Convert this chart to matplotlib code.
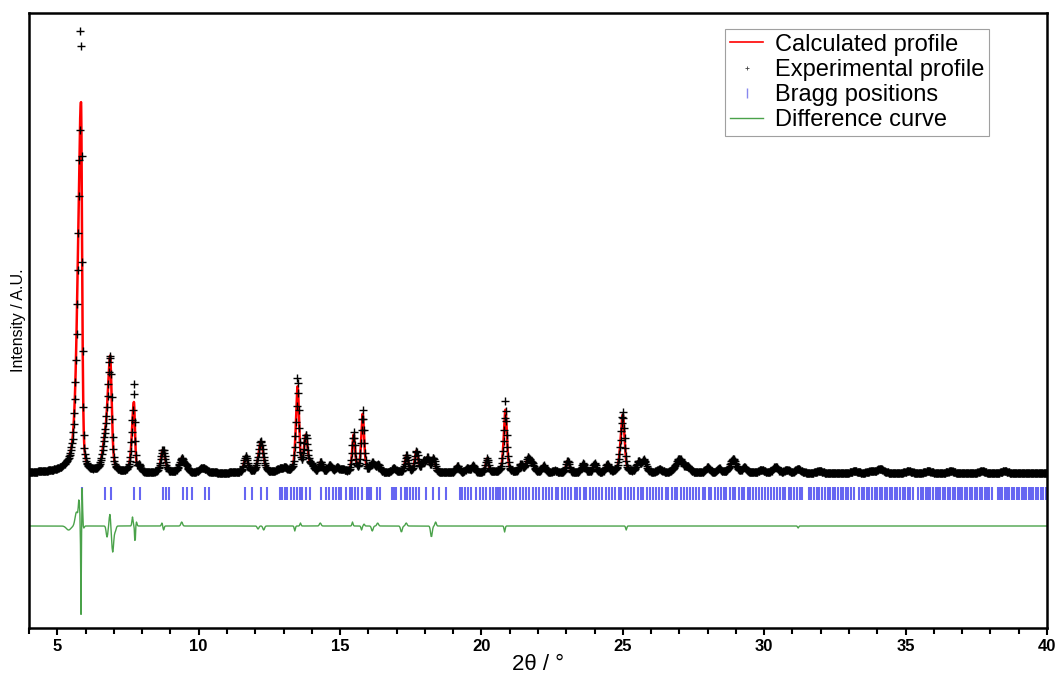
import numpy as np
import matplotlib
matplotlib.use('Agg')
from matplotlib import pyplot as plt
from matplotlib.lines import Line2D
from matplotlib.ticker import MultipleLocator

plt.rcParams['font.family'] = ['Liberation Sans', 'DejaVu Sans']

# Peak table: position (deg), height, left/right half widths
peak_pos = [5.84, 6.66, 6.87, 7.71, 7.90, 8.74, 9.40, 9.57, 10.15, 11.67, 12.20, 12.85,
            13.05, 13.50, 13.79, 14.00, 14.32, 14.64, 14.90, 15.10, 15.48, 15.80, 16.15,
            16.35, 16.90, 17.35, 17.70, 17.95, 18.10, 18.30, 19.15, 19.50, 19.70, 20.20,
            20.85, 21.40, 21.65, 21.80, 22.20, 22.60, 23.05, 23.60, 24.00, 24.45, 25.00,
            25.55, 25.75, 26.30, 27.00, 27.30, 28.00, 28.40, 28.90, 29.30, 29.90, 30.40,
            30.80, 31.20, 31.95, 33.20, 33.80, 34.10, 35.10, 35.80, 36.60, 37.70, 38.50]
peak_height = [370, 18, 115, 70, 7, 23, 14, 5, 5, 16, 31, 3,
               4, 85, 36, 6, 10, 7, 5, 3, 37, 58, 9,
               7, 4, 17, 21, 10, 13, 14, 7, 4, 7, 14,
               63, 8, 14, 8, 7, 2, 12, 9, 9, 8, 58,
               10, 12, 3, 14, 5, 6, 4, 14, 5, 3, 6,
               3, 4, 2, 2, 2, 4, 2, 2, 2, 2, 2]
peak_wl = [0.13, 0.09, 0.11, 0.08, 0.06, 0.09, 0.10, 0.07, 0.14, 0.08, 0.10, 0.12,
           0.09, 0.07, 0.08, 0.08, 0.07, 0.08, 0.08, 0.08, 0.06, 0.06, 0.09,
           0.08, 0.09, 0.07, 0.07, 0.08, 0.07, 0.07, 0.07, 0.08, 0.07, 0.06,
           0.07, 0.08, 0.08, 0.08, 0.08, 0.09, 0.07, 0.08, 0.07, 0.07, 0.09,
           0.09, 0.09, 0.11, 0.15, 0.09, 0.08, 0.08, 0.12, 0.09, 0.11, 0.11,
           0.09, 0.11, 0.11, 0.11, 0.11, 0.13, 0.11, 0.11, 0.11, 0.11, 0.11]
peak_wr = [0.045, 0.09, 0.065, 0.045, 0.06, 0.09, 0.10, 0.07, 0.14, 0.08, 0.10, 0.12,
           0.09, 0.06, 0.08, 0.08, 0.07, 0.08, 0.08, 0.08, 0.06, 0.06, 0.09,
           0.08, 0.09, 0.07, 0.07, 0.08, 0.07, 0.07, 0.07, 0.08, 0.07, 0.06,
           0.06, 0.08, 0.08, 0.08, 0.08, 0.09, 0.07, 0.08, 0.07, 0.07, 0.07,
           0.09, 0.09, 0.11, 0.15, 0.09, 0.08, 0.08, 0.12, 0.09, 0.11, 0.11,
           0.09, 0.11, 0.11, 0.11, 0.11, 0.13, 0.11, 0.11, 0.11, 0.11, 0.11]
background = -1.0

# Observed points that stick out above the fit
obs_pos = [5.82, 5.84, 7.70, 7.72, 13.48, 13.50, 20.84, 15.80, 15.48, 25.00]
obs_int = [441, 426, 88, 78, 94, 89, 71, 62, 40, 60]

# Difference curve features: position, amplitude, width
diff_pos = [5.40, 5.68, 5.77, 5.84, 5.88, 5.94, 6.76, 6.86, 6.96, 7.05, 7.66, 7.75, 7.80,
            8.70, 8.76, 9.40, 12.10, 12.30, 13.40, 13.60, 14.30, 15.44, 15.76, 15.85,
            16.14, 16.33, 17.17, 17.34, 18.23, 18.38, 20.82, 25.12, 31.20]
diff_amp = [-4, 14, 24, -90, 38, -2, -11, 12, -26, -5, 9, -18, 4,
            3, -4, 4, -3, -4, -5, 3, 3, 4, -4, 2,
            -5, 3, -6, 3, -11, 4, -6, -4, -2]
diff_w = [0.08, 0.05, 0.025, 0.012, 0.015, 0.02, 0.03, 0.025, 0.035, 0.03, 0.02, 0.015, 0.02,
          0.02, 0.02, 0.03, 0.03, 0.03, 0.02, 0.02, 0.03, 0.02, 0.02, 0.02,
          0.03, 0.03, 0.03, 0.03, 0.03, 0.025, 0.02, 0.02, 0.02]
diff_zero = -54

bragg = [5.86, 6.69, 6.89, 7.72, 7.92, 8.75, 8.86, 8.96, 9.43, 9.59, 9.78, 10.22, 10.37,
         11.63, 11.87, 12.19, 12.40, 12.87, 12.96, 13.05, 13.13, 13.28, 13.36, 13.46, 13.58,
         13.67, 13.79, 13.93, 14.34, 14.52, 14.60, 14.75, 14.87, 14.96, 15.05, 15.20, 15.34,
         15.44, 15.52, 15.64, 15.76, 15.95, 16.02, 16.11, 16.29, 16.40, 16.82, 16.91, 16.99,
         17.17, 17.29, 17.38, 17.49, 17.58, 17.67, 17.79, 18.05, 18.27, 18.50, 18.73, 19.23,
         19.32, 19.41, 19.52, 19.64, 19.82, 19.94, 20.05, 20.17, 20.29, 20.41, 20.53, 20.58,
         20.64, 20.76, 20.88, 21.00, 21.11, 21.23, 21.35, 21.47, 21.59, 21.68, 21.82, 21.94,
         22.05, 22.18, 22.27, 22.40, 22.49, 22.62, 22.70, 22.84, 22.95, 23.07, 23.15, 23.30,
         23.38, 23.50, 23.62, 23.71, 23.85, 23.93, 24.05, 24.17, 24.26, 24.40, 24.52, 24.60,
         24.73, 24.85, 24.95, 25.08, 25.18, 25.30, 25.41, 25.52, 25.63, 25.72, 25.85, 25.96,
         26.06, 26.18, 26.27, 26.40, 26.51, 26.60, 26.73, 26.84, 26.93, 27.06, 27.17, 27.27,
         27.38, 27.49, 27.60, 27.70, 27.82, 27.92, 28.03, 28.13, 28.25, 28.35, 28.46, 28.57,
         28.66, 28.78, 28.88, 28.98, 29.10, 29.20, 29.30, 29.41, 29.51, 29.62, 29.72, 29.83,
         29.92, 30.04, 30.14, 30.24, 30.35, 30.45, 30.55, 30.66, 30.75, 30.86, 30.95, 31.06,
         31.15, 31.26, 31.35, 31.58, 31.67, 31.76, 31.86, 31.95, 32.05, 32.14, 32.24, 32.33,
         32.42, 32.52, 32.61, 32.70, 32.80, 32.89, 32.98, 33.08, 33.17, 33.36, 33.45, 33.54,
         33.63, 33.72, 33.81, 33.90, 33.99, 34.08, 34.17, 34.26, 34.35, 34.44, 34.53, 34.62,
         34.71, 34.80, 34.89, 34.98, 35.07, 35.16, 35.25, 35.45, 35.54, 35.62, 35.71, 35.80,
         35.88, 35.97, 36.06, 36.14, 36.23, 36.32, 36.40, 36.49, 36.58, 36.66, 36.75, 36.84,
         36.92, 37.01, 37.10, 37.18, 37.27, 37.36, 37.44, 37.53, 37.62, 37.70, 37.79, 37.88,
         37.96, 38.05, 38.25, 38.33, 38.42, 38.50, 38.59, 38.67, 38.76, 38.84, 38.93, 39.01,
         39.10, 39.18, 39.27, 39.35, 39.44, 39.52, 39.61, 39.69, 39.78, 39.86, 39.95]


def calc_profile(x, eta=0.5):
    '''Split pseudo-Voigt sum over the peak table.'''
    y = np.full_like(x, background)
    for p, h, wl, wr in zip(peak_pos, peak_height, peak_wl, peak_wr):
        w = np.where(x < p, wl, wr)
        t = (x - p) / w
        y += h * (eta / (1 + t**2) + (1 - eta) * np.exp(-np.log(2) * t**2))
    return y


def diff_profile(x):
    y = np.full_like(x, float(diff_zero))
    for p, a, w in zip(diff_pos, diff_amp, diff_w):
        y += a * np.exp(-0.5 * ((x - p) / w)**2)
    return y


x_fine = np.arange(4.0, 40.0001, 0.005)
x_obs = np.round(np.arange(4.0, 40.0001, 0.02), 3)
y_calc = calc_profile(x_fine)
y_obs = calc_profile(x_obs)
for p, v in zip(obs_pos, obs_int):
    y_obs[np.argmin(np.abs(x_obs - p))] = v
y_diff = diff_profile(x_obs)

fig = plt.figure(figsize=(10.55, 6.73), dpi=100)
ax = fig.add_axes([29 / 1055, 45 / 673, 1018 / 1055, 615 / 673])

ax.plot(x_fine, y_calc, color='#ff0000', lw=1.8, zorder=2)
ax.plot(x_obs, y_obs, ls='none', marker='+', ms=6, mew=1.0, color='black', zorder=3)
ax.vlines(bragg, -28, -15, color='#3434ee', lw=1.5, alpha=0.75, zorder=2)
ax.plot(x_obs, y_diff, color='#4aa24a', lw=1.0, zorder=2)

ax.set_xlim(4, 40)
ax.set_ylim(-156, 459)
ax.xaxis.set_major_locator(MultipleLocator(5))
ax.xaxis.set_minor_locator(MultipleLocator(1))
ax.set_yticks([])
ax.tick_params(axis='x', which='major', direction='out', length=5, width=1.5, labelsize=12, pad=3)
ax.tick_params(axis='x', which='minor', direction='out', length=4, width=1.5)
for lab in ax.get_xticklabels():
    lab.set_fontweight('bold')
for sp in ax.spines.values():
    sp.set_linewidth(1.8)

ax.set_xlabel('2θ / °', fontsize=16, labelpad=0)
ax.set_ylabel('Intensity / A.U.', fontsize=11.5, labelpad=2)

handles = [
    Line2D([], [], color='#ff0000', lw=1.2),
    Line2D([], [], ls='none', marker='+', ms=3, mew=0.6, color='#444444'),
    Line2D([], [], ls='none', marker='|', ms=7, mew=1.0, color='#8888ee'),
    Line2D([], [], color='#4aa24a', lw=1.0),
]
labels = ['Calculated profile', 'Experimental profile', 'Bragg positions', 'Difference curve']
leg = ax.legend(handles, labels, loc='upper right', bbox_to_anchor=(0.943, 0.974),
                fontsize=17, frameon=True, fancybox=False, edgecolor='#888888',
                borderpad=0.2, labelspacing=0.13, handlelength=1.4, handletextpad=0.5,
                borderaxespad=0)
leg.get_frame().set_linewidth(0.8)

fig.savefig('out.png', dpi=100)
plt.close(fig)
